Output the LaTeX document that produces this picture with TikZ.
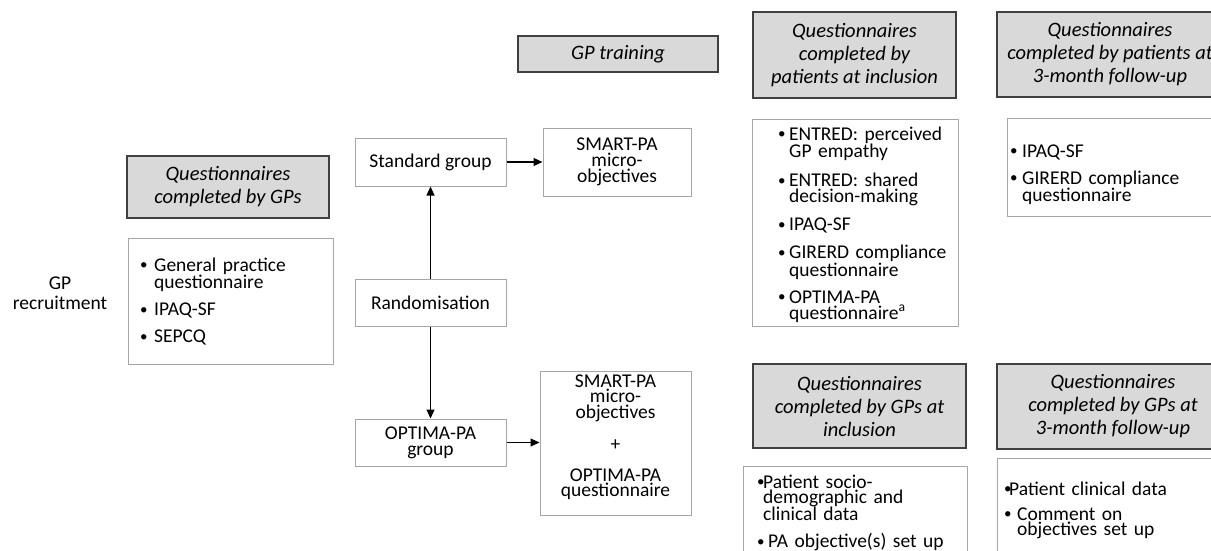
\documentclass[tikz,border=0pt]{standalone}
\usepackage{fontspec}
\setmainfont{Carlito}
\usetikzlibrary{arrows.meta}
\newcommand{\smallbul}{\raisebox{1.2pt}{\fontsize{15}{15}\selectfont\textbullet}}
\newcommand{\bitem}[2]{\hangindent=#1\hangafter=1\noindent\makebox[#1][l]{\smallbul}{\let\\\newline #2}\par}
\tikzset{
  hdr/.style={draw=black!75, line width=1.3pt, fill=black!15, inner sep=0pt, align=center,
    font=\fontsize{20.5}{23}\selectfont\itshape},
  bx/.style={draw=black!35, line width=1pt, fill=white, inner sep=0pt, align=center,
    font=\fontsize{19.5}{16}\selectfont},
  lst/.style={inner sep=0pt, anchor=base west, text width=240pt, align=left,
    font=\fontsize{19.5}{16}\selectfont},
  ctxt/.style={inner sep=0pt, anchor=base, text width=150pt, align=center,
    font=\fontsize{19.5}{15.5}\selectfont},
  arr/.style={-{Triangle[length=9pt,width=8pt]}, line width=1.1pt, black},
}
\begin{document}
\begin{tikzpicture}[x=1pt,y=-1pt]
\useasboundingbox (0,0) rectangle (1211,550);
\fill[white] (0,0) rectangle (1211,550);
\clip (0,0) rectangle (1211,550);

% GP column
\node[hdr, minimum width=202pt, minimum height=62pt] (gphdr) at (228,187) {Questionnaires\\completed by GPs};
\node[bx, minimum width=205pt, minimum height=126pt] (gpbox) at (230.5,301) {};
\node[lst] (gplist) at (140,271) {\setlength\parskip{11pt}\bitem{14pt}{General practice\\questionnaire}\bitem{14pt}{IPAQ-SF}\bitem{14pt}{SEPCQ}};
\node[inner sep=0pt, align=center, font=\fontsize{19.5}{20}\selectfont] (gprec) at (60,293) {GP\\recruitment};

% training
\node[hdr, minimum width=200pt, minimum height=36pt] (train) at (618,54) {GP training};
\node[bx, minimum width=151pt, minimum height=48pt] (std) at (430.5,162) {Standard group};
\node[bx, minimum width=151pt, minimum height=47pt] (rand) at (430.5,302.5) {Randomisation};
\node[bx, minimum width=151pt, minimum height=47pt] (optg) at (430.5,442.5) {OPTIMA-PA\\group};
\node[bx, minimum width=148pt, minimum height=68pt] (smart1) at (617,162) {SMART-PA\\micro-\\objectives};
\node[bx, minimum width=151pt, minimum height=144pt] (smart2) at (615.5,443) {};
\node[ctxt] (smart2t) at (615.5,387) {SMART-PA\\micro-\\objectives\\[17pt]+\\[15pt]OPTIMA-PA\\questionnaire};

\draw[arr] (std.east) -- (smart1.west);
\draw[arr] (optg.east) -- (optg.east -| smart2.west);
\draw[arr] (rand.north) -- (std.south);
\draw[arr] (rand.south) -- (optg.north);

% patients at inclusion
\node[hdr, minimum width=203pt, minimum height=86pt] (pihdr) at (854.5,55) {Questionnaires\\completed by\\patients at inclusion};
\node[bx, minimum width=206pt, minimum height=207pt] (pibox) at (855,222.5) {};
\node[lst] (pilist) at (778,140) {\setlength\parskip{11pt}\bitem{11pt}{ENTRED: perceived\\GP empathy}\bitem{11pt}{ENTRED: shared\\decision-making}\bitem{11pt}{IPAQ-SF}\bitem{11pt}{GIRERD compliance\\questionnaire}\bitem{11pt}{OPTIMA-PA\\questionnaire\textsuperscript{a}}};

% patients at 3-month follow-up
\node[hdr, minimum width=226pt, minimum height=85pt] (pfhdr) at (1110,54.5) {Questionnaires\\completed by patients at\\3-month follow-up};
\node[bx, minimum width=224pt, minimum height=98pt] (pfbox) at (1119,167) {};
\node[lst, font=\fontsize{19.5}{15}\selectfont] (pflist) at (1010,157) {\setlength\parskip{10pt}\bitem{12pt}{IPAQ-SF}\bitem{12pt}{GIRERD compliance\\questionnaire}};

% GPs at inclusion
\node[hdr, minimum width=213pt, minimum height=84pt] (gihdr) at (859.5,406) {Questionnaires\\completed by GPs at\\inclusion};
\node[bx, minimum width=224pt, minimum height=110pt] (gibox) at (855,521) {};
\node[lst, font=\fontsize{19.5}{15}\selectfont] (gilist) at (757,488) {\setlength\parskip{12pt}\bitem{6pt}{Patient socio-\\demographic and\\clinical data}\bitem{11pt}{PA objective(s) set up}};

% GPs at 3-month follow-up
\node[hdr, minimum width=232pt, minimum height=85pt] (gfhdr) at (1113,406.5) {Questionnaires\\completed by GPs at\\3-month follow-up};
\node[bx, minimum width=232pt, minimum height=112pt] (gfbox) at (1113,514) {};
\node[lst, font=\fontsize{19.5}{15}\selectfont] (gflist) at (1004,495) {\setlength\parskip{10pt}\bitem{5pt}{Patient clinical data}\bitem{13pt}{Comment on\\objectives set up}};
\end{tikzpicture}
\end{document}
